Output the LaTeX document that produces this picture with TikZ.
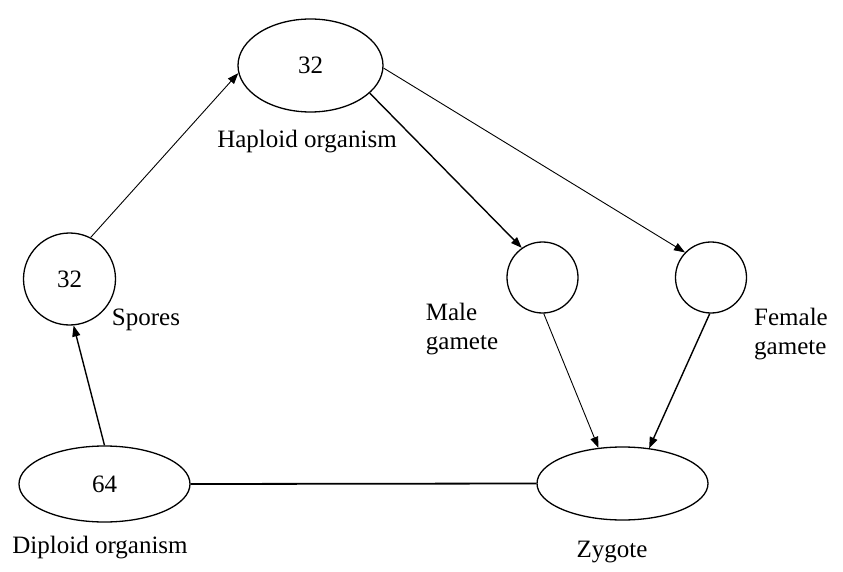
\documentclass[tikz,border=0pt]{standalone}
\usepackage{fontspec}
\setmainfont{Liberation Serif}
\usepackage{tikz}
\usetikzlibrary{arrows.meta,positioning,shapes.geometric}

\begin{document}
\begin{tikzpicture}[x=1pt, y=-1pt, >={Triangle[length=11pt,width=8pt]},
    font=\fontsize{25}{29}\selectfont]

\useasboundingbox (0,0) rectangle (843,572);

% Stili
\tikzset{
    blob/.style={ellipse, draw, line width=1.3pt, inner sep=0pt},
    cell/.style={circle, draw, line width=1.3pt, inner sep=0pt},
    lbl/.style={inner sep=0pt, align=left},
    thin arrow/.style={->, line width=0.9pt},
    thick arrow/.style={->, line width=1.4pt}
}

% Organismi e cellule
\node[blob, minimum width=145pt, minimum height=93pt] (haploid) at (310.5,65.5) {32};
\node[cell, minimum size=92pt] (spores) at (69.5,279) {32};
\node[cell, minimum size=71pt] (male) at (542.5,277.5) {};
\node[cell, minimum size=71pt] (female) at (711,277.5) {};
\node[blob, minimum width=171pt, minimum height=76pt] (diploid) at (104.5,484) {64};
\node[blob, minimum width=171pt, minimum height=73pt] (zygote) at (622.5,483.5) {};

% Etichette
\node[lbl] (haplabel) at (307,142) {Haploid organism};
\node[lbl] (sporelabel) at (146,320) {Spores};
\node[lbl] (malelabel) at (462,329) {Male\\gamete};
\node[lbl] (femalelabel) at (791,334) {Female\\gamete};
\node[lbl] (diplabel) at (100,548) {Diploid organism};
\node[lbl] (zyglabel) at (612,552) {Zygote};

% Frecce del ciclo
\draw[thick arrow] (diploid.north) -- (spores.275);
\draw[thin arrow] (spores.63) -- (haploid.186);
\draw[thick arrow] (haploid.335) -- (male.125);
\draw[thin arrow] (haploid.358) -- (female.136);
\draw[thin arrow] (male.272) -- (zygote.124);
\draw[thick arrow] (female.268) -- (zygote.53);
\draw[line width=1.8pt] (diploid.east) -- (zygote.west);

\end{tikzpicture}
\end{document}
